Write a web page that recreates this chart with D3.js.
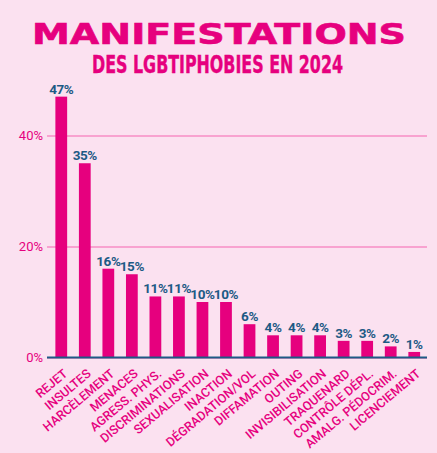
<!DOCTYPE html>
<html>
<head>
<meta charset="utf-8">
<script src="https://cdn.jsdelivr.net/npm/d3@7"></script>
<style>
  html, body { margin: 0; padding: 0; background: #fbe1f0; }
  svg { display: block; }
</style>
</head>
<body>
<div id="chart"></div>
<script>
// Chart data
const categories = ["REJET", "INSULTES", "HARCÈLEMENT", "MENACES", "AGRESS. PHYS.",
                    "DISCRIMINATIONS", "SEXUALISATION", "INACTION", "DÉGRADATION/VOL",
                    "DIFFAMATION", "OUTING", "INVISIBILISATION", "TRAQUENARD",
                    "CONTRÔLE DÉPL.", "AMALG. PÉDOCRIM.", "LICENCIEMENT"];
const values = [47, 35, 16, 15, 11, 11, 10, 10, 6, 4, 4, 4, 3, 3, 2, 1];
const yTicks = [0, 20, 40];
const title = "MANIFESTATIONS";
const subtitle = "DES LGBTIPHOBIES EN 2024";

function init() {
    const width = 437;
    const height = 453;
    const pink = "#e6007e";
    const navy = "#1d5a85";

    const svg = d3.select("#chart").append("svg")
                  .attr("width", width)
                  .attr("height", height);

    svg.append("rect")
       .attr("width", width)
       .attr("height", height)
       .attr("fill", "#fbe1f0");

    // Titles
    svg.append("text")
       .attr("x", 32).attr("y", 43.5)
       .attr("textLength", 374)
       .attr("lengthAdjust", "spacingAndGlyphs")
       .style("font-family", "'DejaVu Sans', sans-serif")
       .style("font-weight", "bold")
       .style("font-size", "28.5px")
       .attr("fill", pink)
       .attr("stroke", pink)
       .attr("stroke-width", 0.6)
       .text(title);

    svg.append("text")
       .attr("x", 92).attr("y", 72.7)
       .attr("textLength", 251)
       .attr("lengthAdjust", "spacingAndGlyphs")
       .style("font-family", "'DejaVu Sans Condensed', 'DejaVu Sans', sans-serif")
       .style("font-weight", "bold")
       .style("font-size", "24px")
       .attr("fill", pink)
       .attr("stroke", pink)
       .attr("stroke-width", 0.4)
       .text(subtitle);

    // Scales
    const x = d3.scaleBand()
                .domain(categories)
                .range([49.5, 426])
                .paddingInner(0.5)
                .paddingOuter(0.25);

    const y = d3.scaleLinear()
                .domain([0, 40])
                .range([357.5, 135.5]);

    // Gridlines and tick labels
    const grid = svg.append("g")
                    .attr("transform", "translate(47,0)")
                    .call(d3.axisLeft(y)
                            .tickValues(yTicks)
                            .tickSize(-380)
                            .tickPadding(4)
                            .tickFormat(d => d + "%"));
    grid.select(".domain").remove();
    grid.selectAll(".tick line")
        .attr("stroke", "#f78cc6")
        .attr("stroke-width", 1.3);
    grid.selectAll(".tick text")
        .attr("fill", pink)
        .style("font-family", "Roboto, sans-serif")
        .style("font-size", "13px");

    // Bars
    svg.selectAll("rect.bar")
       .data(values)
       .enter()
       .append("rect")
       .attr("class", "bar")
       .attr("x", (d, i) => x(categories[i]))
       .attr("y", d => y(d))
       .attr("width", x.bandwidth())
       .attr("height", d => y(0) - y(d))
       .attr("fill", pink);

    // Value labels
    svg.selectAll("text.value")
       .data(values)
       .enter()
       .append("text")
       .attr("class", "value")
       .attr("x", (d, i) => x(categories[i]) + x.bandwidth() / 2)
       .attr("y", d => y(d) - 3)
       .attr("text-anchor", "middle")
       .attr("fill", navy)
       .style("font-family", "Roboto, sans-serif")
       .style("font-weight", "bold")
       .style("font-size", "13.5px")
       .style("letter-spacing", "-0.4px")
       .text(d => d + "%");

    // Baseline axis
    svg.append("line")
       .attr("x1", 47).attr("x2", 427)
       .attr("y1", y(0)).attr("y2", y(0))
       .attr("stroke", navy)
       .attr("stroke-width", 2);

    // Category labels
    svg.selectAll("text.cat")
       .data(categories)
       .enter()
       .append("text")
       .attr("class", "cat")
       .attr("transform", d => `translate(${x(d) + x.bandwidth() / 2 + 7},375) rotate(-40)`)
       .attr("text-anchor", "end")
       .attr("fill", pink)
       .style("font-family", "Roboto, sans-serif")
       .style("font-weight", 500)
       .style("font-size", "12.5px")
       .text(d => d);
}

window.onload = init;
</script>
</body>
</html>
